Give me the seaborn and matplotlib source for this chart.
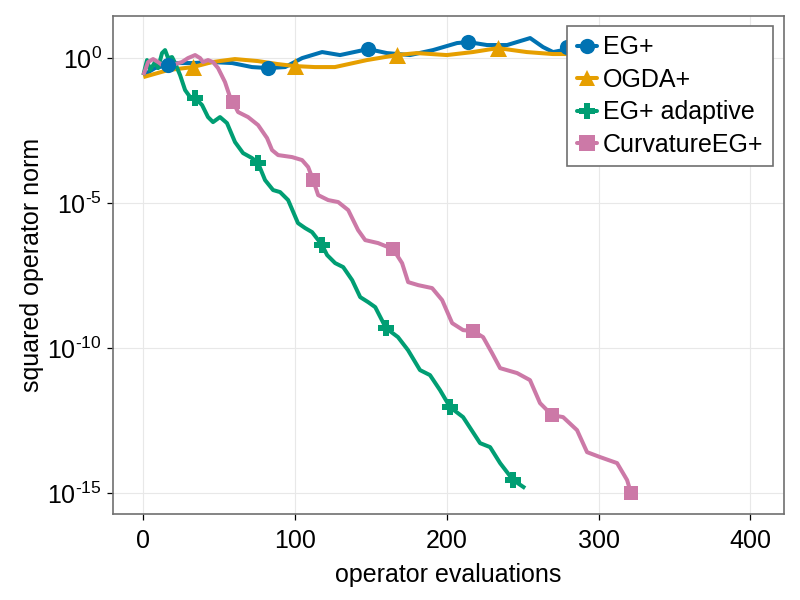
import numpy as np
import pandas as pd
import matplotlib
matplotlib.use("Agg")
import matplotlib.pyplot as plt
from matplotlib.lines import Line2D
import seaborn as sns

# ---------------- data ----------------
eg_x = [0, 7.7, 16.3, 22.9, 32.1, 45.3, 58.5, 71.6, 82.2, 93.4, 104.6, 117.8, 129.6,
        148.1, 160.6, 175.8, 190.9, 206.7, 214.0, 226.5, 239.7, 254.9, 263.4, 270.0,
        276.6, 279.2, 294.4, 314.2, 333.9, 353.7, 373.5, 399.8]
eg_y = [0.265, 0.463, 0.587, 0.689, 0.689, 0.745, 0.689, 0.501, 0.463, 0.501, 1.02, 1.65,
        1.30, 2.09, 1.52, 1.30, 1.93, 3.37, 3.65, 2.88, 2.88, 5.01, 2.45, 1.65,
        1.93, 2.45, 3.09, 4.27, 2.88, 3.63, 3.09, 3.63]
eg_mx = [16.3, 82.2, 148.1, 214.0, 279.2, 345.0]
eg_my = [0.587, 0.463, 2.09, 3.65, 2.45, 3.3]

ogda_x = [0, 16.3, 32.7, 45.3, 60.3, 75.4, 88.6, 99.8, 113.0, 126.2, 147.3, 167.0,
          180.2, 200.0, 217.1, 233.6, 252.7, 269.8, 279.2, 300.9, 327.3, 353.7, 380.0, 399.8]
ogda_y = [0.226, 0.395, 0.501, 0.745, 0.946, 0.807, 0.635, 0.542, 0.501, 0.501, 0.873, 1.30,
          1.52, 1.30, 1.65, 2.26, 1.65, 1.41, 1.41, 1.65, 1.93, 1.65, 1.78, 1.93]
ogda_mx = [32.7, 99.8, 167.0, 233.6, 300.5, 367.5]
ogda_my = [0.501, 0.542, 1.30, 2.26, 1.65, 1.70]

ada_x = [0, 2.4, 4.4, 7.7, 9.7, 12.3, 14.3, 16.3, 18.9, 20.9, 24.2, 27.5, 30.8, 34.1,
         38.7, 42.6, 45.9, 50.5, 55.1, 60.4, 65.7, 71.6, 75.6, 80.2, 85.5, 90.1, 95.4,
         101.9, 106.6, 111.2, 117.8, 121.1, 126.4, 131.7, 137.6, 142.9, 148.1, 152.8,
         159.9, 167.8, 174.4, 182.3, 188.9, 195.5, 202.1, 210.7, 221.9, 228.5, 235.1,
         243.7, 251.6]
ada_y = [0.265, 0.873, 0.395, 0.745, 0.463, 1.52, 1.93, 1.02, 1.11, 0.689, 0.265, 8.07e-2,
         4.63e-2, 4.28e-2, 2.45e-2, 9.46e-3, 6.35e-3, 9.46e-3, 5.87e-3, 1.30e-3, 5.42e-4,
         3.65e-4, 2.45e-4, 6.35e-5, 2.88e-5, 2.45e-5, 1.30e-5, 2.09e-6, 1.41e-6, 1.02e-6,
         3.65e-7, 1.65e-7, 8.73e-8, 6.35e-8, 2.26e-8, 5.87e-9, 3.95e-9, 2.65e-9, 5.01e-10,
         2.45e-10, 8.73e-11, 1.79e-11, 1.20e-11, 3.65e-12, 9.46e-13, 4.28e-13, 5.42e-14,
         3.95e-14, 1.11e-14, 2.88e-15, 1.52e-15]
ada_mx = [34.1, 75.6, 117.8, 159.9, 202.1, 243.7]
ada_my = [4.28e-2, 2.45e-4, 3.65e-7, 5.01e-10, 9.46e-13, 2.88e-15]

curv_x = [0, 3.1, 6.4, 9.7, 14.3, 18.9, 25.4, 29.4, 34.1, 37.4, 39.3, 42.6, 45.9, 49.2,
          53.8, 57.1, 59.1, 62.4, 69.0, 75.6, 81.5, 84.8, 88.8, 98.0, 104.6, 108.6, 111.9,
          115.2, 121.8, 128.4, 135.0, 141.5, 146.2, 154.7, 164.6, 170.5, 174.5, 181.1,
          190.3, 196.9, 203.5, 210.7, 217.3, 223.9, 229.8, 235.1, 246.3, 254.8, 261.4,
          269.3, 276.6, 285.8, 292.4, 301.0, 312.2, 318.8, 321.4]
curv_y = [0.265, 0.745, 0.946, 0.745, 0.501, 0.587, 0.745, 1.02, 1.30, 1.02, 0.745, 0.873,
          0.745, 0.463, 0.152, 4.63e-2, 3.11e-2, 1.41e-2, 9.46e-3, 5.01e-3, 1.79e-3, 6.89e-4,
          4.63e-4, 3.95e-4, 3.11e-4, 1.79e-4, 6.35e-5, 1.93e-5, 1.30e-5, 1.11e-5, 5.87e-6,
          1.20e-6, 5.42e-7, 4.28e-7, 2.65e-7, 8.73e-8, 1.93e-8, 1.52e-8, 1.20e-8, 4.63e-9,
          7.45e-10, 4.28e-10, 3.95e-10, 2.45e-10, 6.89e-11, 2.09e-11, 1.41e-11, 8.07e-12,
          1.30e-12, 5.01e-13, 4.28e-13, 1.52e-13, 2.65e-14, 1.79e-14, 1.11e-14, 2.88e-15,
          1.02e-15]
curv_mx = [59.1, 111.9, 164.6, 217.3, 269.3, 321.4]
curv_my = [3.11e-2, 6.35e-5, 2.65e-7, 3.95e-10, 5.01e-13, 1.02e-15]

methods = ["EG+", "OGDA+", "EG+ adaptive", "CurvatureEG+"]
colors = ["#0072B2", "#E69F00", "#009E73", "#CC79A7"]
markers = ["o", "^", "P", "s"]
x_ticks = [0, 100, 200, 300, 400]
y_ticks = [1e0, 1e-5, 1e-10, 1e-15]
y_tick_labels = [r"$10^{0}$", r"$10^{\text{-}5}$", r"$10^{\text{-}10}$", r"$10^{\text{-}15}$"]

# ---------------- build tables ----------------
lines_df = pd.concat([
    pd.DataFrame({"x": eg_x, "y": eg_y, "method": "EG+"}),
    pd.DataFrame({"x": ogda_x, "y": ogda_y, "method": "OGDA+"}),
    pd.DataFrame({"x": ada_x, "y": ada_y, "method": "EG+ adaptive"}),
    pd.DataFrame({"x": curv_x, "y": curv_y, "method": "CurvatureEG+"}),
], ignore_index=True)
marks = {
    "EG+": pd.DataFrame({"x": eg_mx, "y": eg_my}),
    "OGDA+": pd.DataFrame({"x": ogda_mx, "y": ogda_my}),
    "EG+ adaptive": pd.DataFrame({"x": ada_mx, "y": ada_my}),
    "CurvatureEG+": pd.DataFrame({"x": curv_mx, "y": curv_my}),
}
marker_area = {"EG+": 120, "OGDA+": 150, "EG+ adaptive": 120, "CurvatureEG+": 95}

# ---------------- style ----------------
sns.set_style("white")
FONT = "Liberation Sans"
plt.rcParams["font.family"] = [FONT, "DejaVu Sans"]
plt.rcParams["mathtext.fontset"] = "custom"
plt.rcParams["mathtext.rm"] = FONT
plt.rcParams["mathtext.it"] = FONT
plt.rcParams["mathtext.default"] = "regular"
plt.rcParams["text.color"] = "black"
plt.rcParams["axes.labelcolor"] = "black"
plt.rcParams["xtick.color"] = "black"
plt.rcParams["ytick.color"] = "black"

FS = 18
fig = plt.figure(figsize=(8, 6), dpi=100)
ax = fig.add_axes([0.1409, 0.1433, 0.98 - 0.1409, 0.9733 - 0.1433])

palette = dict(zip(methods, colors))
mark_map = dict(zip(methods, markers))

sns.lineplot(data=lines_df, x="x", y="y", hue="method", palette=palette,
             hue_order=methods, sort=False, estimator=None, linewidth=2.9,
             legend=False, ax=ax, zorder=3, solid_joinstyle="round",
             solid_capstyle="butt")
for m in methods:
    sns.scatterplot(data=marks[m], x="x", y="y", color=palette[m], marker=mark_map[m],
                    s=marker_area[m], linewidth=0, legend=False, ax=ax, zorder=4)

ax.set_yscale("log")
ax.set_xlim(-20.2, 422.2)
ax.set_ylim(10 ** -15.71, 10 ** 1.46)
ax.set_xticks(x_ticks)
ax.set_xticklabels([str(t) for t in x_ticks], fontsize=FS, color="black")
ax.set_yticks(y_ticks)
ax.set_yticklabels(y_tick_labels, fontsize=FS, color="black")
ax.yaxis.set_minor_locator(matplotlib.ticker.NullLocator())
ax.tick_params(axis="both", direction="out", length=4, width=0.9, color="black",
               labelcolor="black", bottom=True, left=True)
ax.tick_params(axis="x", pad=7)
ax.tick_params(axis="y", pad=4)
ax.grid(True, color="#e8e8e8", linewidth=0.8, alpha=1)
ax.set_axisbelow(True)
for s in ax.spines.values():
    s.set_color("#707070")
    s.set_linewidth(1.2)

ax.set_xlabel("operator evaluations", fontsize=FS, labelpad=7, color="black")
ax.set_ylabel("squared operator norm", fontsize=FS, labelpad=2, color="black")

handles = [Line2D([0], [0], color=c, marker=mk, markersize=11, linewidth=2.9,
                  markeredgewidth=0) for c, mk in zip(colors, markers)]
leg = ax.legend(handles, methods, loc="upper right", bbox_to_anchor=(0.9836, 0.98),
                borderaxespad=0, fontsize=FS, frameon=True, fancybox=False,
                framealpha=1, edgecolor="#707070", handlelength=0.8,
                handletextpad=0.25, labelspacing=0.34, borderpad=0.38,
                labelcolor="black")
leg.get_frame().set_linewidth(1.2)
leg.set_zorder(10)

fig.savefig("out.png", dpi=100)
